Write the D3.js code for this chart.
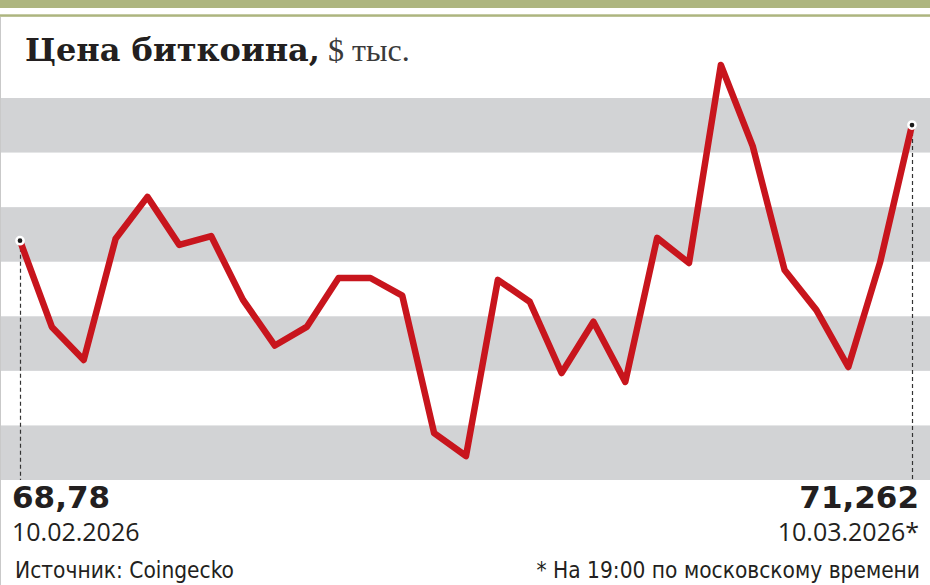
<!DOCTYPE html>
<html>
<head>
<meta charset="utf-8">
<script src="https://cdn.jsdelivr.net/npm/d3@7"></script>
<style>
  html, body { margin: 0; padding: 0; background: #fff; }
  svg { display: block; }
</style>
</head>
<body>
<div id="chart"></div>
<script>
// daily dates, 10.02.2026 - 10.03.2026
var days = ['2026-02-10', '2026-02-11', '2026-02-12', '2026-02-13', '2026-02-14', '2026-02-15',
    '2026-02-16', '2026-02-17', '2026-02-18', '2026-02-19', '2026-02-20', '2026-02-21',
    '2026-02-22', '2026-02-23', '2026-02-24', '2026-02-25', '2026-02-26', '2026-02-27',
    '2026-02-28', '2026-03-01', '2026-03-02', '2026-03-03', '2026-03-04', '2026-03-05',
    '2026-03-06', '2026-03-07', '2026-03-08', '2026-03-09', '2026-03-10'];

// price, $ thousand
var prices = [68.78, 66.93, 66.22, 68.82, 69.72, 68.69, 68.88, 67.51, 66.53, 66.93,
    67.98, 67.98, 67.60, 64.65, 64.16, 67.94, 67.47, 65.94, 67.04, 65.75,
    68.84, 68.30, 72.55, 70.81, 68.15, 67.29, 66.07, 68.32, 71.262];

var firstLabel = '68,78';
var lastLabel = '71,262';
var firstDate = '10.02.2026';
var lastDate = '10.03.2026*';

var width = 930;
var height = 585;

var svg = d3.select('#chart')
    .append('svg')
    .attr('width', width)
    .attr('height', height);

var parse = d3.timeParse('%Y-%m-%d');
var data = days.map(function(d, i) {
    return { date: parse(d), value: prices[i] };
});

var x = d3.scaleTime()
    .domain(d3.extent(data, function(d) { return d.date; }))
    .range([20, 912]);

var y = d3.scaleLinear()
    .domain([63.645, 71.842])
    .range([480, 98]);

// top decoration
svg.append('rect')
    .attr('x', 0).attr('y', 0)
    .attr('width', width).attr('height', 8)
    .attr('fill', '#adb57f');
svg.append('rect')
    .attr('x', 0).attr('y', 14.3)
    .attr('width', width).attr('height', 2.5)
    .attr('fill', '#adb57f');
svg.append('line')
    .attr('x1', 0.5).attr('x2', 0.5)
    .attr('y1', 17).attr('y2', height)
    .attr('stroke', '#c9c9c9')
    .attr('stroke-width', 1);

// striped background: 7 stripes, gray on the even ones
var stripes = d3.scaleBand()
    .domain(d3.range(7))
    .range([y.range()[1], y.range()[0]])
    .paddingInner(0);

svg.selectAll('rect.stripe')
    .data(stripes.domain().filter(function(i) { return i % 2 === 0; }))
    .enter()
    .append('rect')
    .attr('class', 'stripe')
    .attr('x', 1)
    .attr('y', function(i) { return stripes(i); })
    .attr('width', width - 1)
    .attr('height', stripes.bandwidth())
    .attr('fill', '#d2d3d5');

// title
var title = svg.append('text')
    .attr('x', 25)
    .attr('y', 61)
    .attr('fill', '#231f20');
title.append('tspan')
    .style('font-family', '"DejaVu Serif", serif')
    .style('font-weight', 'bold')
    .style('font-size', '32px')
    .text('Цена биткоина,');
title.append('tspan')
    .style('font-family', '"Liberation Serif", serif')
    .style('font-size', '32px')
    .attr('fill', '#3a3a3a')
    .text(' $ тыс.');

// dashed drop lines for first and last points
var ends = [data[0], data[data.length - 1]];

svg.selectAll('line.drop')
    .data(ends)
    .enter()
    .append('line')
    .attr('class', 'drop')
    .attr('x1', function(d) { return x(d.date) + 0.5; })
    .attr('x2', function(d) { return x(d.date) + 0.5; })
    .attr('y1', function(d) { return y(d.value); })
    .attr('y2', y.range()[0])
    .attr('stroke', '#333')
    .attr('stroke-width', 1.2)
    .attr('stroke-dasharray', '4,3');

// price line
var line = d3.line()
    .x(function(d) { return x(d.date); })
    .y(function(d) { return y(d.value); });

svg.append('path')
    .datum(data)
    .attr('d', line)
    .attr('fill', 'none')
    .attr('stroke', '#c8151d')
    .attr('stroke-width', 6.5)
    .attr('stroke-linejoin', 'round');

svg.selectAll('circle.end')
    .data(ends)
    .enter()
    .append('circle')
    .attr('class', 'end')
    .attr('cx', function(d) { return x(d.date); })
    .attr('cy', function(d) { return y(d.value); })
    .attr('r', 3.6)
    .attr('fill', '#1a1a1a')
    .attr('stroke', '#fff')
    .attr('stroke-width', 2.5);

// end labels
var big = { font: '"DejaVu Sans", sans-serif', size: '31px', weight: 'bold' };

svg.append('text')
    .attr('x', 12).attr('y', 508)
    .style('font-family', big.font)
    .style('font-size', big.size)
    .style('font-weight', big.weight)
    .attr('fill', '#231f20')
    .text(firstLabel);

svg.append('text')
    .attr('x', 919).attr('y', 508)
    .attr('text-anchor', 'end')
    .style('font-family', big.font)
    .style('font-size', big.size)
    .style('font-weight', big.weight)
    .attr('fill', '#231f20')
    .text(lastLabel);

svg.append('text')
    .attr('x', 12).attr('y', 541)
    .style('font-family', '"Open Sans", sans-serif')
    .style('font-size', '25px')
    .attr('fill', '#231f20')
    .text(firstDate);

svg.append('text')
    .attr('x', 919).attr('y', 541)
    .attr('text-anchor', 'end')
    .style('font-family', '"Open Sans", sans-serif')
    .style('font-size', '25px')
    .attr('fill', '#231f20')
    .text(lastDate);

// footer
svg.append('text')
    .attr('x', 15).attr('y', 578)
    .style('font-family', '"Liberation Sans Narrow", "DejaVu Sans Condensed", sans-serif')
    .style('font-size', '22.5px')
    .attr('fill', '#231f20')
    .text('Источник: Coingecko');

svg.append('text')
    .attr('x', 920).attr('y', 578)
    .attr('text-anchor', 'end')
    .style('font-family', '"Liberation Sans Narrow", "DejaVu Sans Condensed", sans-serif')
    .style('font-size', '22.5px')
    .attr('fill', '#231f20')
    .text('* На 19:00 по московскому времени');
</script>
</body>
</html>
